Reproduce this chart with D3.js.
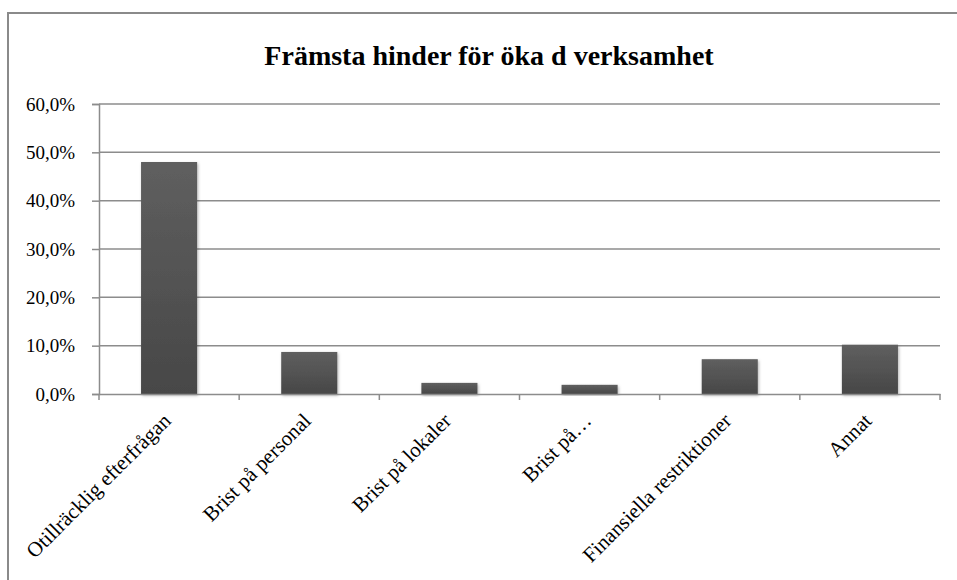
<!DOCTYPE html>
<html>
<head>
<meta charset="utf-8">
<script src="https://cdn.jsdelivr.net/npm/d3@7"></script>
<style>
  html, body { margin: 0; padding: 0; background: #fff; }
  svg { display: block; }
</style>
</head>
<body>
<svg id="chart" width="957" height="580"></svg>
<script>
const title = "Främsta hinder för öka d verksamhet";
const categories = [
  "Otillräcklig efterfrågan",
  "Brist på personal",
  "Brist på lokaler",
  "Brist på…",
  "Finansiella restriktioner",
  "Annat"
];
const values = [48.0, 8.7, 2.3, 1.9, 7.2, 10.2];
const yTicks = [0, 10, 20, 30, 40, 50, 60];

(function () {
const svg = d3.select("#chart");
const W = 957, H = 580;
const font = "'Liberation Serif', 'Times New Roman', serif";

const defs = svg.append("defs");
const grad = defs.append("linearGradient").attr("id", "barGrad")
  .attr("x1", 0).attr("y1", 0).attr("x2", 0).attr("y2", 1);
grad.append("stop").attr("offset", "0%").attr("stop-color", "#5f5f5f");
grad.append("stop").attr("offset", "100%").attr("stop-color", "#474747");
const filt = defs.append("filter").attr("id", "shadow")
  .attr("x", "-20%").attr("y", "-20%").attr("width", "140%").attr("height", "140%");
filt.append("feDropShadow").attr("dx", 1).attr("dy", 1.5)
  .attr("stdDeviation", 1.5).attr("flood-color", "#000").attr("flood-opacity", 0.3);

// outer chart border (extends past right/bottom edges)
svg.append("rect")
  .attr("x", 8).attr("y", 13).attr("width", W + 20).attr("height", H + 20)
  .attr("fill", "none").attr("stroke", "#8a8a8a").attr("stroke-width", 2);

// title
svg.append("text")
  .attr("x", 489).attr("y", 65)
  .attr("text-anchor", "middle")
  .attr("font-family", font).attr("font-weight", "bold").attr("font-size", 28)
  .attr("fill", "#000")
  .text(title);

const pLeft = 99, pRight = 940, pTop = 104, pBottom = 394;

const x = d3.scaleBand().domain(categories).range([pLeft, pRight])
  .paddingInner(0.6).paddingOuter(0.3);
const y = d3.scaleLinear().domain([0, 60]).range([pBottom, pTop]);

const locale = d3.formatLocale({decimal: ",", thousands: " ", grouping: [3], currency: ["", " kr"]});
const fmt = locale.format(".1f");

// gridlines
svg.append("g").selectAll("line").data(yTicks.filter(d => d > 0)).join("line")
  .attr("x1", pLeft).attr("x2", pRight)
  .attr("y1", d => y(d)).attr("y2", d => y(d))
  .attr("stroke", "#8c8c8c").attr("stroke-width", 1.5);

// bars
svg.append("g").selectAll("rect").data(values).join("rect")
  .attr("x", (d, i) => x(categories[i]))
  .attr("y", d => y(d))
  .attr("width", x.bandwidth())
  .attr("height", d => pBottom - y(d))
  .attr("fill", "url(#barGrad)")
  .attr("filter", "url(#shadow)");

// y axis
const yAxis = svg.append("g").attr("transform", `translate(${pLeft},0)`)
  .call(d3.axisLeft(y).tickValues(yTicks).tickSize(7).tickPadding(17)
    .tickFormat(d => fmt(d) + "%"));
yAxis.select(".domain").attr("stroke", "#8c8c8c").attr("stroke-width", 1.5);
yAxis.selectAll(".tick line").attr("stroke", "#8c8c8c").attr("stroke-width", 1.5);
yAxis.selectAll("text").attr("font-family", font).attr("font-size", 19).attr("fill", "#000");

// x axis
const xAxis = svg.append("g").attr("transform", `translate(0,${pBottom})`)
  .call(d3.axisBottom(x).tickSize(0).tickFormat(""));
xAxis.select(".domain").attr("stroke", "#8c8c8c").attr("stroke-width", 1.5);
const bounds = d3.range(categories.length + 1).map(i => pLeft + i * x.step());
svg.append("g").selectAll("line").data(bounds).join("line")
  .attr("x1", d => d).attr("x2", d => d)
  .attr("y1", pBottom).attr("y2", pBottom + 6)
  .attr("stroke", "#8c8c8c").attr("stroke-width", 1.5);

// x labels, rotated
svg.append("g").selectAll("text").data(categories).join("text")
  .attr("transform", d => `translate(${x(d) + x.bandwidth() / 2 + 3},${pBottom + 28}) rotate(-45)`)
  .attr("text-anchor", "end")
  .attr("font-family", font).attr("font-size", 21).attr("fill", "#000")
  .text(d => d);
})();
</script>
</body>
</html>
